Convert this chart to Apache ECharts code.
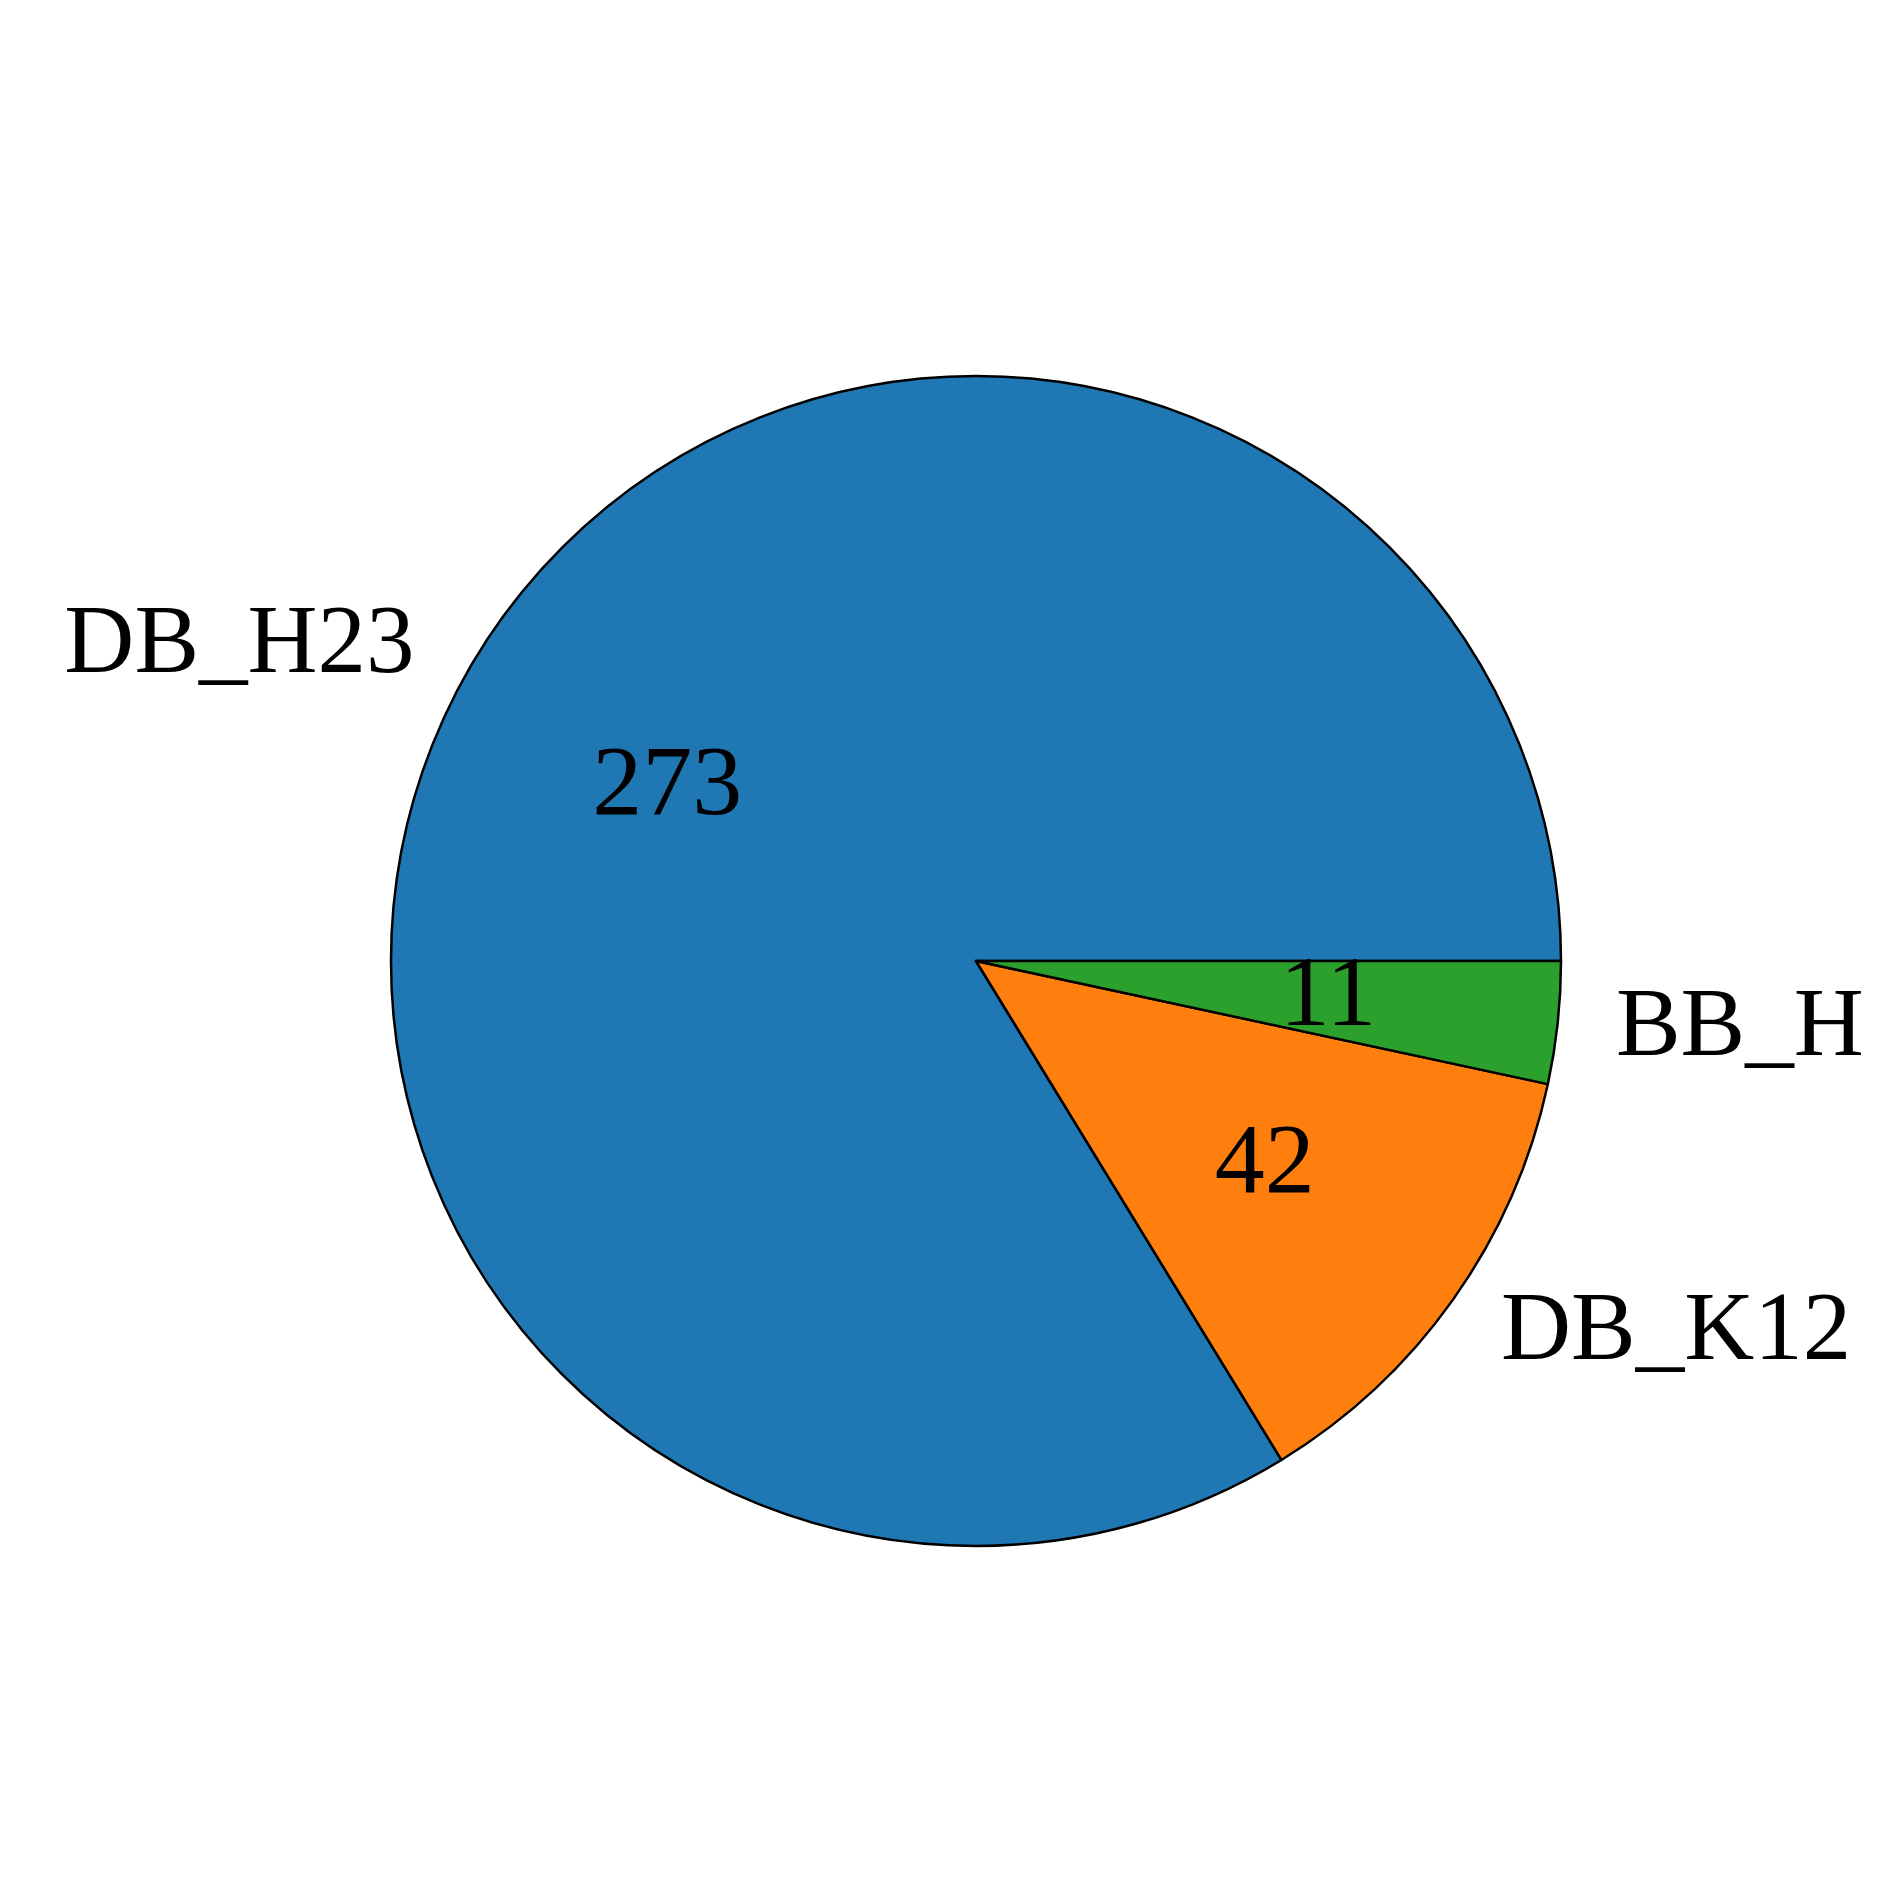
<!DOCTYPE html>
<html>
<head>
<meta charset="utf-8">
<script src="https://cdn.jsdelivr.net/npm/echarts@6/dist/echarts.min.js"></script>
<style>
    html, body { margin: 0; padding: 0; background: #fff; }
    #chart { width: 1903px; height: 1903px; }
</style>
</head>
<body>
<div id="chart"></div>
<script>
const categories = ['DB_H23', 'DB_K12', 'BB_H'];
const counts = [273, 42, 11];
const colors = ['#1f77b4', '#ff7f0e', '#2ca02c'];

const center = [976, 961];
const radius = 585;
const fontFamily = '"Liberation Serif", "DejaVu Serif", serif';

const pieData = categories.map((name, i) => ({
    name,
    value: counts[i],
    itemStyle: { color: colors[i] }
}));

const chart = echarts.init(document.getElementById('chart'));

chart.setOption({
    backgroundColor: '#fff',
    animation: false,
    series: [
        {
            // the wedges and the outer names
            type: 'pie',
            center,
            radius,
            startAngle: 0,
            clockwise: false,
            avoidLabelOverlap: false,
            silent: true,
            itemStyle: { borderColor: '#000', borderWidth: 2.5 },
            label: {
                show: true,
                position: 'outside',
                formatter: '{b}',
                color: '#000',
                fontFamily,
                fontSize: 97,
                distanceToLabelLine: 0
            },
            labelLine: { show: false, length: radius * 0.1, length2: 0 },
            data: pieData
        },
        {
            // counts, at 0.6 of the radius
            type: 'pie',
            center,
            radius: radius * 1.2,
            startAngle: 0,
            clockwise: false,
            avoidLabelOverlap: false,
            silent: true,
            z: 3,
            itemStyle: { color: 'rgba(0,0,0,0)', borderWidth: 0 },
            label: {
                show: true,
                position: 'inside',
                rotate: 0,
                formatter: '{c}',
                color: '#000',
                fontFamily,
                fontSize: 100
            },
            labelLine: { show: false },
            data: pieData.map(d => ({ name: d.name, value: d.value }))
        }
    ]
});
</script>
</body>
</html>
